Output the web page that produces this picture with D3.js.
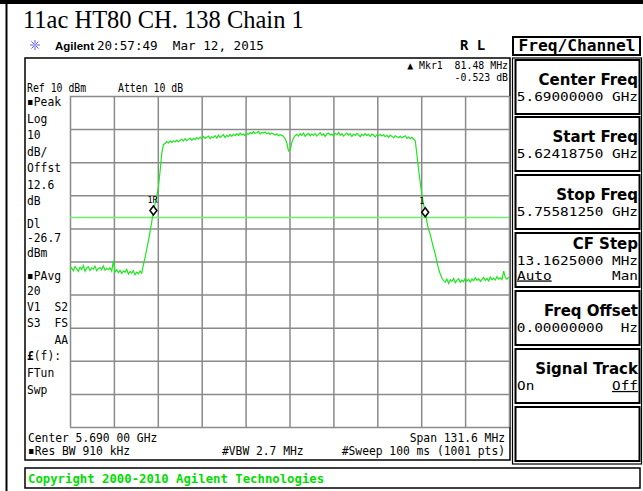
<!DOCTYPE html>
<html><head><meta charset="utf-8">
<script src="https://cdn.jsdelivr.net/npm/d3@7"></script>
<style>html,body{margin:0;padding:0;background:#fff}svg{display:block}</style>
</head><body>
<script>
// ---------------- data ----------------
const chartTitle = "11ac HT80 CH. 138 Chain 1";
const headerBrand = "Agilent";
const headerTime = "20:57:49  Mar 12, 2015";
const centerFreqMHz = 5690.0;
const spanMHz = 131.6;
const refLevelDbm = 10;
const dbPerDiv = 10;
const numDivs = 10;
const displayLineDbm = -26.7;
// sweep points: offset from center (MHz) = sweepStartMHz + i*sweepStepMHz
const sweepStartMHz = -65.8;
const sweepStepMHz = 0.5;
const traceLevels = [
  -42.6,-41.9,-42.8,-41.5,-42.2,-43.0,-41.7,-42.4,-41.2,-42.9,
  -42.0,-41.6,-42.7,-41.9,-42.3,-41.4,-42.8,-42.1,-41.8,-42.5,
  -41.3,-42.6,-42.1,-42.4,-41.9,-42.9,-39.8,-43.1,-42.5,-43.4,
  -42.7,-43.6,-42.9,-43.2,-42.4,-43.8,-43.0,-43.5,-42.8,-44.0,
  -43.2,-43.7,-42.9,-43.5,
  -41.0,-38.8,-36.3,-33.8,-31.0,-28.0,-24.8,-22.6,-20.4,-17.5,-12.8,-7.4,-4.6,
  -4.4,-3.8,-4.2,-3.6,-4.0,-3.5,-3.9,-3.3,-3.8,-3.4,
  -3.0,-3.6,-2.9,-3.5,-3.1,-2.7,-3.4,-2.8,-3.2,-2.6,
  -3.0,-2.4,-2.9,-2.2,-2.8,-2.5,-2.1,-2.9,-2.3,-2.6,
  -2.0,-2.7,-1.8,-2.5,-2.1,-1.7,-2.6,-1.9,-2.3,-1.6,
  -2.2,-1.5,-2.0,-1.4,-1.9,-1.2,-1.8,-1.5,-2.0,-1.3,
  -1.6,-1.0,-1.4,-0.8,-1.3,-1.1,-0.7,-1.5,-1.0,-1.2,
  -0.9,-1.4,-1.1,-1.6,-1.2,-1.5,-1.8,-1.4,-2.0,-1.7,
  -1.9,-2.2,-2.9,-4.2,-6.6,-6.3,-4.1,-2.7,-2.0,-1.6,
  -2.1,-1.4,-1.9,-1.2,-2.2,-1.6,-1.3,-2.0,-1.5,-1.9,
  -1.3,-2.1,-1.6,-1.1,-1.9,-1.4,-2.2,-1.5,-1.2,-1.8,
  -1.5,-2.0,-1.3,-1.7,-1.0,-1.9,-1.4,-2.1,-1.6,-1.2,
  -1.8,-1.4,-2.2,-1.5,-1.9,-1.3,-1.7,-2.3,-1.6,-2.0,
  -1.4,-1.9,-1.6,-2.2,-1.5,-1.8,-2.4,-1.7,-2.0,-1.6,
  -2.1,-1.7,-2.3,-1.9,-2.5,-1.8,-2.2,-2.6,-2.0,-2.3,
  -2.6,-2.1,-2.7,-2.3,-2.0,-2.8,-2.4,-2.9,-2.5,-3.0,
  -3.5,-7.8,-12.2,-16.2,-19.8,-22.8,-25.0,-28.0,-30.4,-31.8,-34.0,-36.0,-37.8,-40.2,-42.2,-43.8,-45.0,-45.8,
  -46.2,-45.3,-46.6,-45.5,-46.0,-45.1,-46.4,-45.7,-45.2,-46.3,
  -45.6,-46.1,-45.0,-45.9,-45.4,-46.2,-45.3,-45.8,-44.9,-45.7,
  -45.2,-46.0,-45.4,-44.8,-45.7,-45.1,-45.9,-44.7,-45.5,-45.0,
  -45.6,-44.6,-45.3,-44.9,-45.5,-42.9,-44.8,-45.4,-44.7
];
const markerOffsetsMHz = [-40.8, 40.68];
const markerLevelsDbm = [-24.6, -25.1];
const markerNames = ["1R", "1"];
const markerReadout = ["\u25B2 Mkr1  81.48 MHz", "-0.523 dB"];
const refText = "Ref 10 dBm";
const attenText = "Atten 10 dB";
const leftLabels = ["\u25AAPeak","Log","10","dB/","Offst","12.6","dB","Dl","-26.7","dBm","\u25AAPAvg","20","V1  S2","S3  FS","  AA","\u00A3(f):","FTun","Swp"];
const bottomLeft = ["Center 5.690 00 GHz", "\u25AARes BW 910 kHz"];
const bottomMid = "#VBW 2.7 MHz";
const bottomRight = ["Span 131.6 MHz", "#Sweep 100 ms (1001 pts)"];
const menuTitle = "Freq/Channel";
const softkeyTitles = ["Center Freq","Start Freq","Stop Freq","CF Step","Freq Offset","Signal Track",""];
const softkeyValues = ["5.69000000 GHz","5.62418750 GHz","5.75581250 GHz","13.1625000 MHz","0.00000000  Hz","",""];
const copyrightText = "Copyright 2000-2010 Agilent Technologies";

// ---------------- drawing ----------------
const W = 643, H = 491;
const svg = d3.select("body").append("svg").attr("width", W).attr("height", H);

const MONO = "DejaVu Sans Mono";
function txt(sel, x, y, s, o = {}) {
  return sel.append("text")
    .attr("transform", `translate(${x},${y}) scale(${o.sx ?? 0.87},1)`)
    .attr("font-family", o.ff || MONO)
    .attr("font-size", o.fs || 13)
    .attr("font-weight", o.fw || "normal")
    .attr("fill", o.fill || "#000")
    .attr("text-anchor", o.anchor || "start")
    .attr("xml:space", "preserve")
    .style("white-space", "pre")
    .text(s);
}

// outer frame (document table)
svg.append("rect").attr("x", 0).attr("y", 0).attr("width", W).attr("height", 4).attr("fill", "#000");
svg.append("rect").attr("x", 5.5).attr("y", 0).attr("width", 2).attr("height", H).attr("fill", "#000");

// title
svg.append("text").attr("x", 23).attr("y", 28)
  .attr("font-family", "Liberation Serif, Times New Roman, serif")
  .attr("font-size", 24.5).attr("fill", "#000").text(chartTitle);

// header line
const star = svg.append("g").attr("transform", "translate(35,45)").attr("stroke", "#5a5aff").attr("stroke-width", 1);
d3.range(8).forEach(k => {
  const a = k * Math.PI / 4;
  star.append("line").attr("x1", 1.5 * Math.cos(a)).attr("y1", 1.5 * Math.sin(a))
    .attr("x2", 5 * Math.cos(a)).attr("y2", 5 * Math.sin(a));
});
star.append("circle").attr("r", 1.5).attr("fill", "#9a9aff").attr("stroke", "none");
svg.append("text").attr("x", 55).attr("y", 50).attr("font-family", "Liberation Sans, Arial, sans-serif")
  .attr("font-weight", "bold").attr("font-size", 11.5).text(headerBrand);
txt(svg, 97, 50, headerTime, { fs: 13, sx: 0.97 });
txt(svg, 460, 50, "R L", { fs: 14, fw: "bold", sx: 1 });

// menu title box
svg.append("rect").attr("x", 513).attr("y", 37).attr("width", 127).attr("height", 18)
  .attr("fill", "none").attr("stroke", "#000").attr("stroke-width", 2);
txt(svg, 577, 51, menuTitle, { fs: 15, fw: "bold", anchor: "middle", sx: 1.08 });

// main screen panel
svg.append("rect").attr("x", 25).attr("y", 58).attr("width", 485).attr("height", 402)
  .attr("fill", "none").attr("stroke", "#000").attr("stroke-width", 1.5);

// plot area
const gx0 = 70, gx1 = 509, gy0 = 96, gy1 = 427;
const x = d3.scaleLinear().domain([-spanMHz / 2, spanMHz / 2]).range([gx0, gx1]);
const y = d3.scaleLinear().domain([refLevelDbm - dbPerDiv * numDivs, refLevelDbm]).range([gy1, gy0]);

const xTicks = d3.range(numDivs + 1).map(i => -spanMHz / 2 + i * spanMHz / numDivs);
const yTicks = d3.range(numDivs + 1).map(i => refLevelDbm - i * dbPerDiv);

const gridX = svg.append("g").attr("transform", `translate(0,${gy1})`)
  .call(d3.axisBottom(x).tickValues(xTicks).tickSize(-(gy1 - gy0)).tickFormat(""));
const gridY = svg.append("g").attr("transform", `translate(${gx0},0)`)
  .call(d3.axisLeft(y).tickValues(yTicks).tickSize(-(gx1 - gx0)).tickFormat(""));
[gridX, gridY].forEach(g => {
  g.select(".domain").remove();
  g.selectAll(".tick line").attr("stroke", "#8a8a8a").attr("stroke-width", 1.5);
});

// display line
svg.append("line").attr("x1", gx0).attr("x2", gx1).attr("y1", y(displayLineDbm)).attr("y2", y(displayLineDbm))
  .attr("stroke", "#6ef06e").attr("stroke-width", 1.5);

// trace
const tracePts = traceLevels.map((v, i) => [sweepStartMHz + i * sweepStepMHz, v]);
svg.append("defs").append("clipPath").attr("id", "plotclip").append("rect")
  .attr("x", gx0).attr("y", gy0).attr("width", gx1 - gx0).attr("height", gy1 - gy0);
svg.append("path").datum(tracePts)
  .attr("clip-path", "url(#plotclip)")
  .attr("d", d3.line().x(d => x(d[0])).y(d => y(d[1])))
  .attr("fill", "none").attr("stroke", "#1ee81e").attr("stroke-width", 1.2);

// markers
markerOffsetsMHz.forEach((m, i) => {
  const mx = x(m), my = y(markerLevelsDbm[i]);
  svg.append("path").attr("d", `M${mx},${my - 4.5}L${mx + 3.5},${my}L${mx},${my + 4.5}L${mx - 3.5},${my}Z`)
    .attr("fill", "#fff").attr("stroke", "#000").attr("stroke-width", 1.5);
  txt(svg, mx - 6, my - 8, markerNames[i], { fs: 9.5, sx: 0.9 });
});

// marker readout & ref line
txt(svg, 508, 68.5, markerReadout[0], { anchor: "end", fs: 10.5, sx: 0.94 });
txt(svg, 508, 81, markerReadout[1], { anchor: "end", fs: 10.5, sx: 0.94 });
txt(svg, 27, 92, refText, { fs: 12, sx: 0.82 });
txt(svg, 118, 92, attenText, { fs: 12, sx: 0.82 });

// left annotation column
const leftY = [106, 122.5, 139, 155.5, 172, 188.5, 205, 227.5, 241.5, 256.5, 279.5, 294.5, 310.5, 327, 343.5, 360, 377, 394];
leftLabels.forEach((s, i) => {
  if (s.includes("  ")) {
    const parts = s.split(/\s{2,}/);
    if (parts[0]) txt(svg, 27, leftY[i], parts[0]);
    txt(svg, 68, leftY[i], parts[1], { anchor: "end" });
  } else if (s.startsWith("\u00A3")) {
    const t = txt(svg, 27, leftY[i], "");
    t.append("tspan").attr("font-weight", "bold").text("\u00A3");
    t.append("tspan").text(s.slice(1));
  } else {
    txt(svg, 27, leftY[i], s);
  }
});

// bottom annotations
txt(svg, 28, 441.5, bottomLeft[0]);
txt(svg, 28, 455, bottomLeft[1]);
txt(svg, 222, 455, bottomMid);
txt(svg, 505, 441.5, bottomRight[0], { anchor: "end" });
txt(svg, 505, 455, bottomRight[1], { anchor: "end" });

// softkey column
svg.append("rect").attr("x", 512.5).attr("y", 58).attr("width", 129).attr("height", 406)
  .attr("fill", "none").attr("stroke", "#000").attr("stroke-width", 1.2);
const skTop = [60, 117, 175, 233, 291, 349, 407];
const skR = 638, skL = 517;
softkeyTitles.forEach((s, i) => {
  const t0 = skTop[i];
  svg.append("rect").attr("x", 515.5).attr("y", t0).attr("width", 124).attr("height", 54)
    .attr("fill", "none").attr("stroke", "#000").attr("stroke-width", 2);
  const tOpt = { fs: 15, fw: "bold", anchor: "end", sx: 1, ff: "DejaVu Sans" };
  const vOpt = { anchor: "end", fs: 12.5, sx: 1.15 };
  const vOptL = { fs: 12.5, sx: 1.15 };
  if (i === 3) {
    txt(svg, skR, t0 + 16, s, tOpt);
    txt(svg, skR, t0 + 31.5, softkeyValues[i], vOpt);
    txt(svg, skL, t0 + 46.5, "Auto", vOptL).attr("text-decoration", "underline");
    txt(svg, skR, t0 + 46.5, "Man", vOpt);
  } else if (i === 5) {
    txt(svg, skR, t0 + 25, s, tOpt);
    txt(svg, skL, t0 + 41, "On", vOptL);
    txt(svg, skR, t0 + 41, "Off", vOpt).attr("text-decoration", "underline");
  } else if (s) {
    txt(svg, skR, t0 + 25, s, tOpt);
    txt(svg, skR, t0 + 41, softkeyValues[i], vOpt);
  }
});

// copyright bar
svg.append("rect").attr("x", 25).attr("y", 468).attr("width", 615).attr("height", 20)
  .attr("fill", "none").attr("stroke", "#000").attr("stroke-width", 1.5);
txt(svg, 28, 483, copyrightText, { fs: 12.3, fw: "bold", fill: "#00dd00", sx: 1 });
</script>
</body></html>
